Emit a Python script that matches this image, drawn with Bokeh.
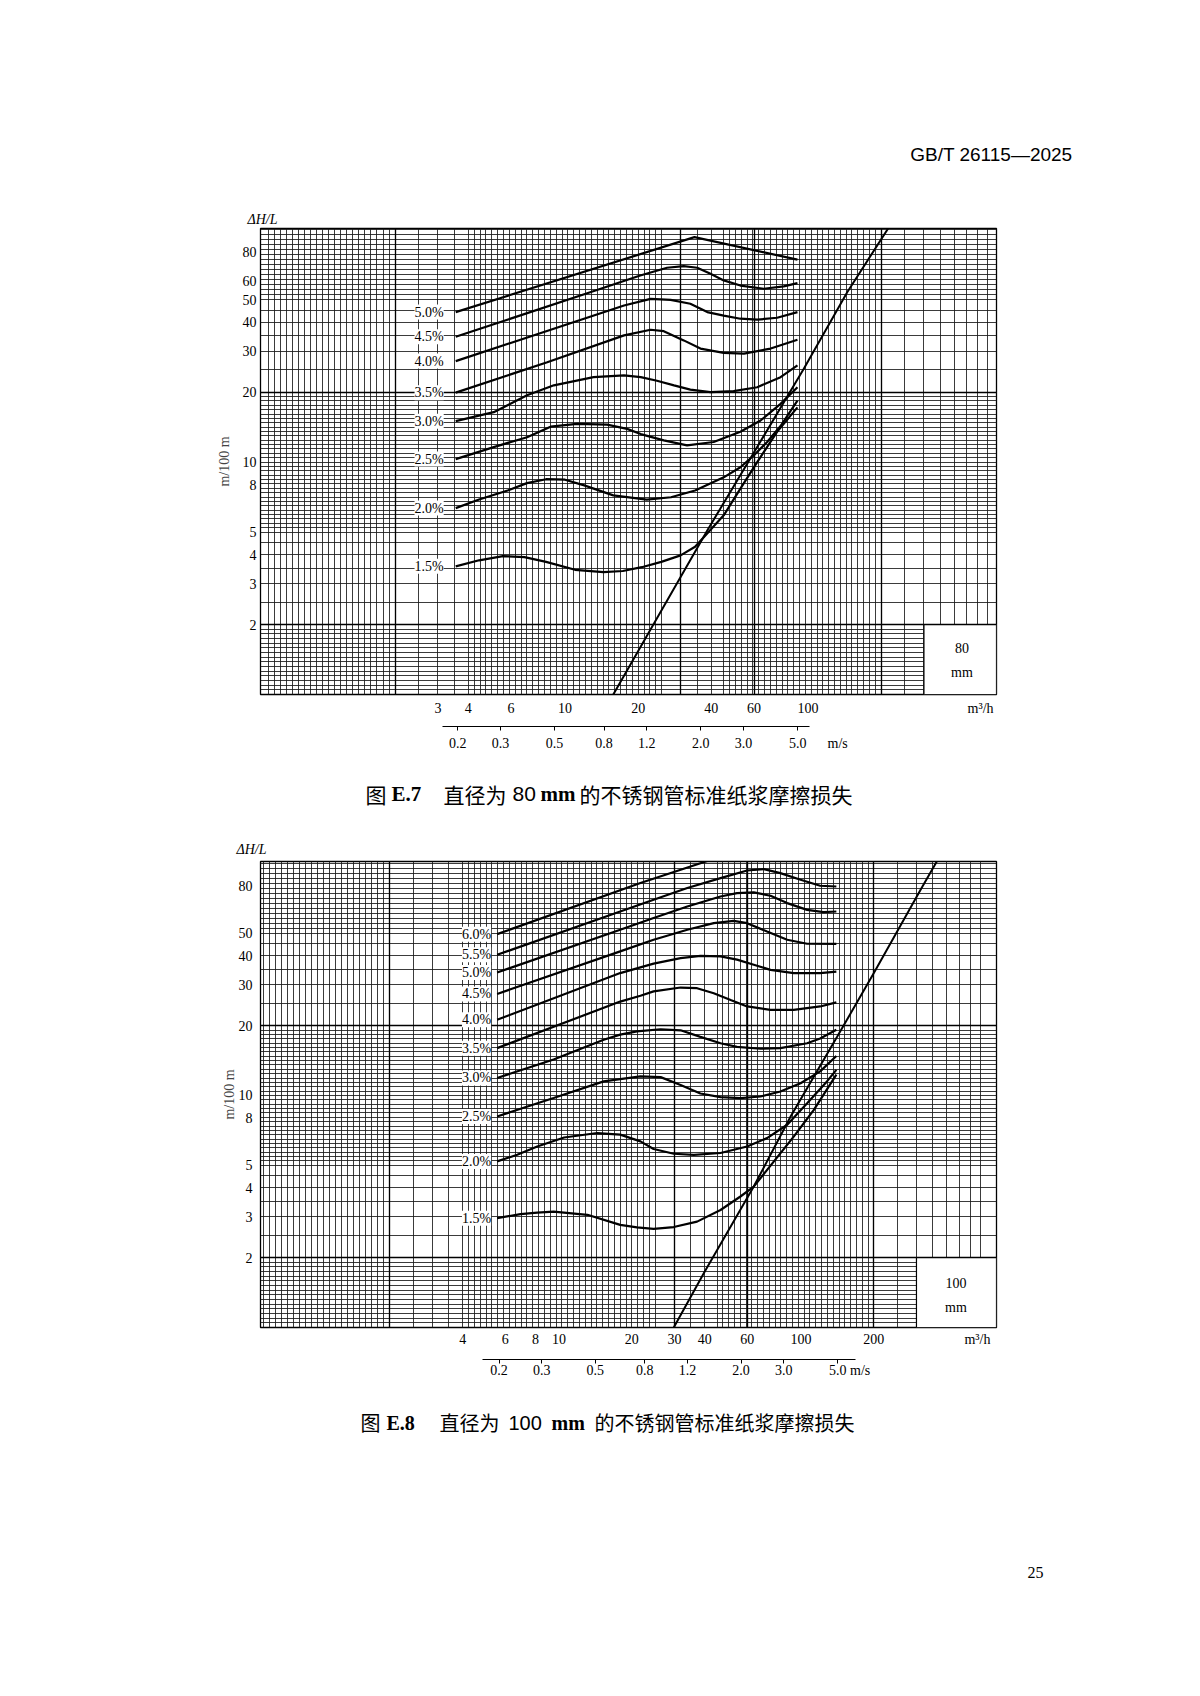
import numpy as np
from bokeh.core.properties import value
from bokeh.embed import file_html
from bokeh.layouts import column
from bokeh.models import (BoxAnnotation, ColumnDataSource, CustomJSTickFormatter, FixedTicker,
                          Grid, Label, LabelSet, LogAxis, LogScale, Range1d, Title)
from bokeh.plotting import figure
from bokeh.resources import INLINE

SERIF = "Liberation Serif"
SANS = "Liberation Sans"
CJK = "Noto Sans CJK SC"
NB = "\u00a0"
PAGE_W = 1184
FRAME_L, FRAME_R = 260, 996      # plot frames of a column share their left/right edges

# ======================= Figure E.7 : 80 mm =======================
e7_labels = ["1.5%", "2.0%", "2.5%", "3.0%", "3.5%", "4.0%", "4.5%", "5.0%"]
e7_q_15 = [3.55, 4.43, 5.55, 6.81, 8.36, 11.0, 14.4, 17.3, 20.7, 24.9, 29.9, 34.3, 38.8, 45.0, 52.7, 61.8, 74.6, 90.5]
e7_h_15 = [3.56, 3.78, 3.94, 3.90, 3.72, 3.44, 3.36, 3.40, 3.53, 3.72, 3.97, 4.32, 4.98, 5.90, 7.69, 10.0, 13.5, 17.2]
e7_q_20 = [3.55, 4.43, 5.81, 6.97, 8.36, 10.0, 12.0, 15.8, 21.7, 27.3, 34.3, 45.0, 52.7, 59.9, 67.9, 77.1, 90.5]
e7_h_20 = [6.34, 6.90, 7.55, 8.12, 8.44, 8.40, 7.94, 7.19, 6.89, 7.06, 7.55, 8.60, 9.50, 10.7, 12.2, 14.3, 18.4]
e7_q_25 = [3.55, 5.09, 6.98, 8.72, 11.2, 14.9, 18.0, 20.5, 25.5, 31.8, 40.9, 52.7, 63.8, 77.1, 90.5]
e7_h_25 = [10.3, 11.6, 12.8, 14.2, 14.6, 14.5, 13.9, 13.2, 12.4, 11.8, 12.2, 13.5, 15.1, 17.8, 21.0]
e7_q_30 = [3.55, 5.09, 6.98, 9.0, 13.1, 17.5, 20.5, 23.9, 28.1, 32.8, 39.7, 49.4, 61.8, 77.1, 90.5]
e7_h_30 = [15.0, 16.4, 19.4, 21.4, 23.2, 23.6, 23.2, 22.4, 21.4, 20.5, 20.0, 20.2, 21.0, 23.2, 26.1]
e7_q_35 = [3.55, 8.45, 17.5, 22.5, 25.5, 30.8, 36.1, 45.0, 54.5, 70.2, 90.5]
e7_h_35 = [19.9, 26.9, 35.1, 37.1, 36.6, 33.4, 30.8, 29.5, 29.3, 30.8, 33.6]
e7_q_40 = [3.55, 17.5, 22.5, 27.2, 32.8, 38.5, 45.0, 52.7, 61.8, 74.6, 90.5]
e7_h_40 = [27.2, 47.2, 50.4, 49.9, 48.0, 44.2, 42.7, 41.4, 41.0, 41.8, 44.2]
e7_q_45 = [3.55, 12.7, 20.4, 26.3, 30.8, 35.0, 39.7, 45.0, 52.7, 65.8, 79.4, 90.5]
e7_h_45 = [34.6, 53.8, 63.5, 68.6, 69.7, 68.6, 64.6, 60.5, 57.5, 55.7, 57.0, 58.9]
e7_q_50 = [3.55, 34.1, 90.5]
e7_h_50 = [44.2, 92.9, 74.3]
e7_q_limit = [15.8, 38.5, 59.9, 96.1, 145, 214]
e7_h_limit = [1.0, 5.08, 11.0, 25.2, 53.8, 101.5]
e7_flow_ticks = [3, 4, 6, 10, 20, 40, 60, 100]
e7_vel_ticks = [0.2, 0.3, 0.5, 0.8, 1.2, 2.0, 3.0, 5.0]
e7_head_ticks = [2, 3, 4, 5, 8, 10, 20, 30, 40, 50, 60, 80]
e7_q_per_v = 18.1          # m3/h per m/s for an 80 mm bore

# ======================= Figure E.8 : 100 mm =======================
e8_labels = ["1.5%", "2.0%", "2.5%", "3.0%", "3.5%", "4.0%", "4.5%", "5.0%", "5.5%", "6.0%"]
e8_q_15 = [5.55, 6.93, 8.13, 9.5, 13.1, 17.9, 21.0, 24.6, 29.8, 37.2, 46.5, 56.2, 63.8, 77.3, 93.3, 113, 140]
e8_h_15 = [2.96, 3.08, 3.13, 3.16, 3.06, 2.77, 2.70, 2.66, 2.71, 2.86, 3.21, 3.67, 4.05, 5.20, 6.65, 8.67, 12.3]
e8_q_20 = [5.55, 6.72, 8.13, 10.5, 14.4, 17.9, 21.7, 24.6, 29.8, 36.1, 46.5, 59.9, 72.4, 87.7, 106, 128, 140]
e8_h_20 = [5.20, 5.55, 6.03, 6.59, 6.89, 6.78, 6.34, 5.88, 5.61, 5.55, 5.65, 6.03, 6.55, 7.48, 9.27, 11.5, 12.9]
e8_q_25 = [5.55, 9.5, 15.3, 21.7, 26.3, 31.8, 38.4, 46.5, 56.2, 68.1, 82.2, 99.6, 120, 140]
e8_h_25 = [8.12, 9.75, 11.5, 12.1, 12.0, 11.1, 10.2, 9.84, 9.75, 9.90, 10.4, 11.3, 12.7, 14.8]
e8_q_30 = [5.55, 9.5, 15.3, 17.9, 21.0, 26.3, 31.8, 38.4, 46.5, 54.4, 68.1, 82.2, 106, 120, 140]
e8_h_30 = [11.9, 14.3, 17.4, 18.3, 18.9, 19.3, 19.1, 17.9, 16.8, 16.2, 15.9, 16.0, 16.8, 17.6, 19.2]
e8_q_35 = [5.55, 17.9, 21.7, 24.6, 31.8, 37.2, 43.6, 51.2, 59.9, 74.8, 93.3, 120, 140]
e8_h_35 = [16.0, 25.4, 26.9, 28.1, 29.2, 29.0, 27.6, 25.8, 24.2, 23.4, 23.4, 24.2, 25.2]
e8_q_40 = [5.55, 17.9, 24.6, 31.8, 38.4, 46.5, 54.4, 63.8, 74.8, 93.3, 120, 140]
e8_h_40 = [21.2, 33.7, 37.0, 39.1, 40.0, 39.8, 38.5, 36.6, 34.8, 33.7, 33.7, 34.2]
e8_q_45 = [5.55, 17.9, 24.6, 33.9, 43.6, 52.7, 59.9, 72.4, 87.7, 106, 140]
e8_h_45 = [27.4, 41.8, 46.9, 51.8, 55.3, 56.6, 55.3, 50.9, 46.9, 45.1, 45.0]
e8_q_50 = [5.55, 17.9, 24.6, 33.9, 46.5, 54.4, 63.8, 74.8, 87.7, 106, 124, 140]
e8_h_50 = [33.9, 51.8, 58.2, 65.3, 72.1, 74.5, 75.1, 72.6, 67.5, 63.1, 61.7, 62.1]
e8_q_55 = [5.55, 17.9, 24.6, 33.9, 46.5, 59.9, 70.2, 82.2, 99.6, 120, 140]
e8_h_55 = [40.4, 62.1, 69.8, 78.4, 86.5, 93.3, 94.6, 90.9, 85.1, 80.2, 79.6]
e8_q_60 = [5.55, 21.7, 41.6]
e8_h_60 = [49.6, 82.4, 103]
e8_q_limit = [29.8, 39.6, 63.8, 90.6, 141, 200, 312, 366]
e8_h_limit = [1.0, 1.71, 4.05, 8.12, 17.9, 33.7, 77.1, 103]
e8_flow_ticks = [4, 6, 8, 10, 20, 30, 40, 60, 100, 200]
e8_vel_ticks = [0.2, 0.3, 0.5, 0.8, 1.2, 2.0, 3.0, 5.0]
e8_head_ticks = [2, 3, 4, 5, 8, 10, 20, 30, 40, 50, 80]
e8_q_per_v = 28.27         # m3/h per m/s for a 100 mm bore


# ---------- chart paper ruling (decoration only) ----------
def ruling_x():
    v = list(np.geomspace(0.6, 2.0, 22)) + [2.5, 3.0, 3.5] + list(np.geomspace(4, 25, 34)) \
        + [30, 35, 40] + list(np.geomspace(45, 200, 28)) + [250, 300, 350, 400, 450, 500, 550]
    return [float(a) for a in v]


def ruling_y():
    v = list(np.geomspace(1, 2, 16)[1:]) + [2.5, 3, 3.5, 4, 4.5, 5] + list(np.geomspace(5, 20, 33)[1:]) \
        + [25, 30, 35, 40, 45, 50] + list(np.geomspace(50, 100, 15)[1:])
    return [float(a) for a in v]


def title(text, align, offset, standoff, font, size, style="normal", valign="bottom"):
    return Title(text=text, align=align, offset=offset, standoff=standoff, vertical_align=valign,
                 text_font=font, text_font_size=size, text_font_style=style, text_color="black")


def text_strip(top, height, frame_h, items, titles=()):
    """A strip of page for running text; its frame shares the column's left/right edges."""
    f = figure(width=PAGE_W, height=height, x_range=Range1d(FRAME_L, FRAME_R),
               y_range=Range1d(top + frame_h, top), x_axis_location=None, y_axis_location=None,
               title=None, min_border_left=FRAME_L, min_border_right=PAGE_W - FRAME_R,
               min_border_top=0, min_border_bottom=height - frame_h,
               output_backend="svg", toolbar_location=None)
    f.outline_line_color = None
    f.background_fill_color = "white"
    f.border_fill_color = "white"
    for g in f.grid:
        g.visible = False
    for X, Y, txt, font, size, style in items:
        f.text(x=[X], y=[Y], text=[txt], text_font=value(font), text_font_size=value(size),
               text_font_style=style, text_align="left", text_baseline="middle", text_color="black")
    for side, t in titles:
        f.add_layout(t, side)
    return f


def build(cfg):
    fig_top, fig_h = cfg["fig_top"], cfg["fig_h"]
    T, B = cfg["frame_tb"]
    L, R = FRAME_L, FRAME_R
    to_q = cfg["px_to_q"]
    x0, x1 = to_q(L), to_q(R)
    y0, y1 = cfg["yr"]
    p = figure(width=PAGE_W, height=fig_h, x_axis_type="log", y_axis_type="log",
               x_range=Range1d(x0, x1), y_range=Range1d(y0, y1), title=None,
               output_backend="svg", toolbar_location=None,
               min_border_left=L, min_border_right=PAGE_W - R,
               min_border_top=T - fig_top, min_border_bottom=fig_top + fig_h - B)
    p.background_fill_color = "white"
    p.border_fill_color = "white"
    p.outline_line_color = "black"
    p.outline_line_width = 1.3

    lx0, lx1, ly0, ly1 = np.log10(x0), np.log10(x1), np.log10(y0), np.log10(y1)

    def conv(X, Y):
        qx = 10 ** (lx0 + (X - L) / (R - L) * (lx1 - lx0))
        qy = 10 ** (ly0 + (B - Y) / (B - T) * (ly1 - ly0))
        return float(qx), float(qy)

    def put(X, Y, text):
        x, y = conv(X, Y)
        p.add_layout(Label(x=x, y=y, text=text, text_font=SERIF, text_font_size="14px",
                           text_align="center", text_baseline="middle", text_color="black"))

    # grid ruling
    p.xgrid.ticker = FixedTicker(ticks=ruling_x())
    p.ygrid.ticker = FixedTicker(ticks=ruling_y())
    for g in (p.xgrid, p.ygrid):
        g.grid_line_color = "#1a1a1a"
        g.grid_line_width = 0.95
        g.grid_line_alpha = 0.9
    p.add_layout(Grid(dimension=0, ticker=FixedTicker(ticks=[2.0, 30.0, 60.0, 200.0]),
                      grid_line_color="black", grid_line_width=1.35))
    p.add_layout(Grid(dimension=1, ticker=FixedTicker(ticks=[2.0, 20.0]),
                      grid_line_color="black", grid_line_width=1.35))

    # flow axis (m3/h); the unit is printed as the last label of the row
    xa = p.xaxis[0]
    xa.ticker = FixedTicker(ticks=cfg["flow_ticks"] + [cfg["flow_unit_at"]])
    xa.formatter = CustomJSTickFormatter(code="return tick > 300 ? 'm³/h' : String(tick);")
    xa.axis_line_color = None
    xa.major_tick_line_color = None
    xa.minor_tick_line_color = None
    xa.major_tick_out = 0
    xa.major_tick_in = 0
    xa.minor_tick_out = 0
    xa.minor_tick_in = 0
    xa.major_label_standoff = cfg["flow_standoff"]
    xa.major_label_text_font = SERIF
    xa.major_label_text_font_size = "14px"
    xa.major_label_text_color = "black"
    xa.axis_label = " "
    xa.axis_label_text_font_size = cfg["spacer"]
    xa.axis_label_standoff = 0

    # head axis
    ya = p.yaxis[0]
    ya.ticker = FixedTicker(ticks=cfg["head_ticks"])
    ya.formatter = CustomJSTickFormatter(code="return String(tick);")
    ya.axis_line_color = None
    ya.major_tick_line_color = None
    ya.minor_tick_line_color = None
    ya.major_tick_out = 0
    ya.major_tick_in = 0
    ya.minor_tick_out = 0
    ya.minor_tick_in = 0
    ya.major_label_standoff = cfg["head_standoff"]
    ya.major_label_text_font = SERIF
    ya.major_label_text_font_size = "14px"
    ya.major_label_text_color = "black"
    ya.axis_label = "m/100 m"
    ya.axis_label_text_font = SERIF
    ya.axis_label_text_font_size = "14px"
    ya.axis_label_text_font_style = "normal"
    ya.axis_label_standoff = cfg["ylabel_standoff"]

    # velocity axis (m/s); the unit follows the last label
    k = cfg["q_per_v"]
    p.extra_x_ranges = {"vel": Range1d(x0 / k, x1 / k)}
    p.extra_x_scales = {"vel": LogScale()}
    pad_l, pad_r = cfg["ms_pad"]
    last = NB * pad_l + "5.0" + NB * pad_r + "m/s"
    va = LogAxis(x_range_name="vel", ticker=FixedTicker(ticks=cfg["vel_ticks"]),
                 formatter=CustomJSTickFormatter(
                     args=dict(last=last),
                     code="return Math.abs(tick - 5) < 1e-9 ? last : tick.toFixed(1);"),
                 bounds=cfg["vel_bounds"])
    va.axis_line_color = "black"
    va.axis_line_width = 1.2
    va.major_tick_line_color = "black"
    va.major_tick_out = 4
    va.major_tick_in = 0
    va.minor_tick_line_color = None
    va.minor_tick_out = 0
    va.minor_tick_in = 0
    va.major_label_standoff = cfg["vel_standoff"]
    va.major_label_text_font = SERIF
    va.major_label_text_font_size = "14px"
    va.major_label_text_color = "black"
    p.add_layout(va, "below")

    # curves
    for q, h in cfg["curves"]:
        p.line(q, h, line_color="black", line_width=2.2)
    p.line(cfg["limit"][0], cfg["limit"][1], line_color="black", line_width=2.0)

    starts = ColumnDataSource(dict(q=[c[0][0] for c in cfg["curves"]],
                                   h=[c[1][0] for c in cfg["curves"]],
                                   t=cfg["labels"]))
    p.add_layout(LabelSet(x="q", y="h", text="t", source=starts, x_offset=cfg["label_dx"],
                          text_align="right", text_baseline="middle",
                          text_font=value(SERIF), text_font_size="14px", text_color="black",
                          background_fill_color="white"))

    # diameter box
    p.add_layout(BoxAnnotation(left=300, top=2.0, fill_color="white", fill_alpha=1.0,
                               line_color="black", line_width=1.2, line_alpha=1.0))
    bx, by1, by2 = cfg["box_text"]
    put(bx, by1, cfg["diam"])
    put(bx, by2, "mm")

    for side, t in cfg["titles"]:
        p.add_layout(t, side)
    return p


# pixel -> flow maps of the two printed scales (layout of the printed sheet)
def e7_px_to_q(X):
    return float(10 ** (1 + (X - 564.5) / 243.0))


def e8_px_to_q(X):
    return float(10 ** (1 + (X - 558.5) / 242.0))


cfg7 = dict(
    fig_top=0, fig_h=760, frame_tb=(228, 694), px_to_q=e7_px_to_q, yr=(1.0, 101.2),
    flow_ticks=e7_flow_ticks, flow_unit_at=513.0, head_ticks=e7_head_ticks, vel_ticks=e7_vel_ticks,
    q_per_v=e7_q_per_v, vel_bounds=(0.173, 5.59), ms_pad=(12, 6),
    flow_standoff=6, spacer="4px", head_standoff=4, ylabel_standoff=8, vel_standoff=5,
    curves=[(e7_q_15, e7_h_15), (e7_q_20, e7_h_20), (e7_q_25, e7_h_25), (e7_q_30, e7_h_30),
            (e7_q_35, e7_h_35), (e7_q_40, e7_h_40), (e7_q_45, e7_h_45), (e7_q_50, e7_h_50)],
    labels=e7_labels, limit=(e7_q_limit, e7_h_limit), label_dx=-12,
    diam="80", box_text=(961.5, 647, 672),
    titles=[("above", title("ΔH/L", "left", 247 - FRAME_L, 4, SERIF, "14px", "italic")),
            ("above", title("GB/T 26115—2025", "right", FRAME_R - 1072, 85, SANS, "19px"))],
)

cfg8 = dict(
    fig_top=830, fig_h=555, frame_tb=(861, 1327), px_to_q=e8_px_to_q, yr=(1.0, 102.0),
    flow_ticks=e8_flow_ticks, flow_unit_at=536.0, head_ticks=e8_head_ticks, vel_ticks=e8_vel_ticks,
    q_per_v=e8_q_per_v, vel_bounds=(0.171, 5.94), ms_pad=(7, 1),
    flow_standoff=4, spacer="7px", head_standoff=8, ylabel_standoff=-1, vel_standoff=-1,
    curves=[(e8_q_15, e8_h_15), (e8_q_20, e8_h_20), (e8_q_25, e8_h_25), (e8_q_30, e8_h_30),
            (e8_q_35, e8_h_35), (e8_q_40, e8_h_40), (e8_q_45, e8_h_45), (e8_q_50, e8_h_50),
            (e8_q_55, e8_h_55), (e8_q_60, e8_h_60)],
    labels=e8_labels, limit=(e8_q_limit, e8_h_limit), label_dx=-6,
    diam="100", box_text=(955.5, 1282, 1307),
    titles=[("above", title("ΔH/L", "left", 236 - FRAME_L, 10, SERIF, "14px", "italic"))],
)

mid_strip = text_strip(760, 70, 70, [
    (365, 793, "图", CJK, "21px", "normal"),
    (391, 793, "E.7", SERIF, "21px", "bold"),
    (443, 793, "直径为", CJK, "21px", "normal"),
    (512, 793, "80", SANS, "21px", "normal"),
    (540, 793, "mm", SERIF, "21px", "bold"),
    (579, 793, "的不锈钢管标准纸浆摩擦损失", CJK, "21px", "normal"),
])
foot_strip = text_strip(1385, 311, 95, [
    (360, 1422, "图", CJK, "20px", "normal"),
    (386, 1422, "E.8", SERIF, "20px", "bold"),
    (439, 1422, "直径为", CJK, "20px", "normal"),
    (508, 1422, "100", SANS, "20px", "normal"),
    (551, 1422, "mm", SERIF, "20px", "bold"),
    (594, 1422, "的不锈钢管标准纸浆摩擦损失", CJK, "20px", "normal"),
], titles=[("below", title("25", "left", 1027 - FRAME_L, 172, SERIF, "16px", valign="top"))])

p7 = build(cfg7)
p8 = build(cfg8)
layout = column(p7, mid_strip, p8, foot_strip, spacing=0)
open("out.html", "w").write(file_html(layout, INLINE))
